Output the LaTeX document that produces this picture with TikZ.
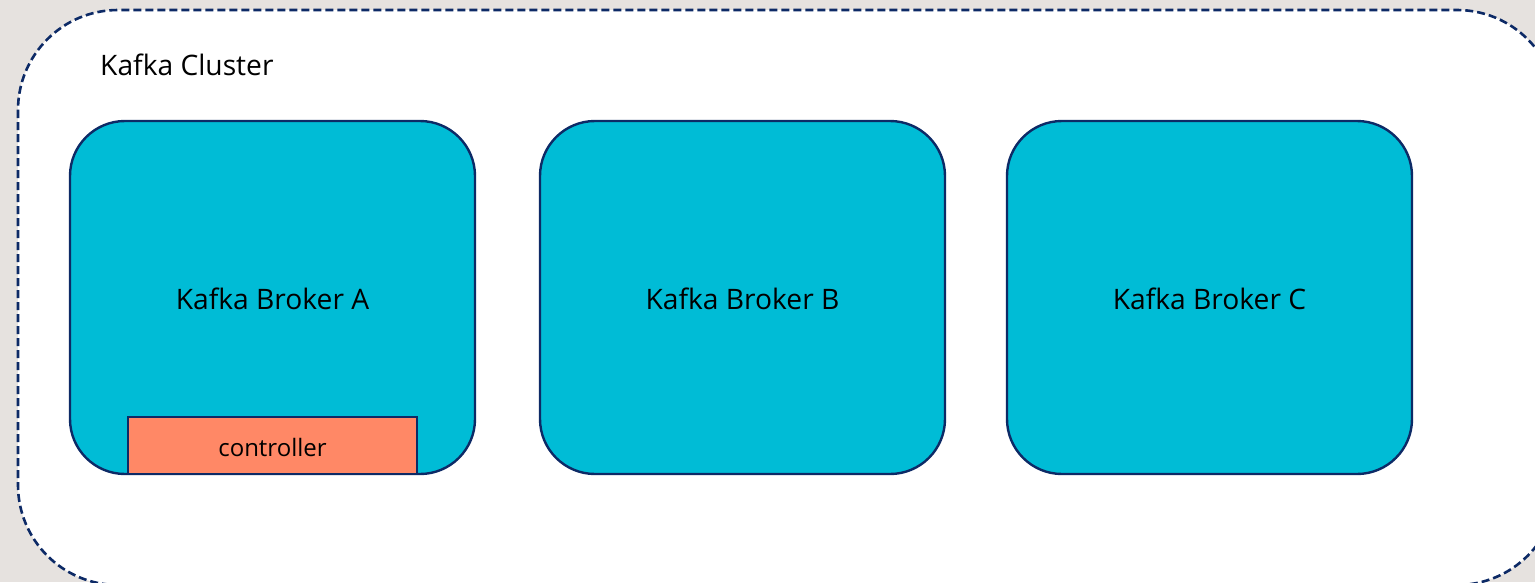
\documentclass[tikz,border=0pt]{standalone}
\usepackage{fontspec}
\setmainfont{Open Sans}
\definecolor{bgc}{HTML}{E6E2DF}
\definecolor{navy}{HTML}{0D2A66}
\definecolor{broker}{HTML}{00BCD6}
\definecolor{ctrl}{HTML}{FF8866}
\begin{document}
\begin{tikzpicture}[x=1pt,y=-1pt,
  brokerbox/.style={draw=navy,line width=2.4pt,fill=broker,rounded corners=55pt},
  ctrlbox/.style={draw=navy,line width=2.6pt,fill=ctrl},
  lbl/.style={font=\fontsize{28.2}{32}\selectfont,text=black}]
\useasboundingbox (0,0) rectangle (1535,582);
\fill[bgc] (0,0) rectangle (1535,582);
\draw[navy,line width=2.6pt,dash pattern=on 8pt off 4pt,fill=white,rounded corners=100pt]
  (18,10) rectangle (1557,585);
\node[lbl,anchor=west,inner sep=0pt] (cl) at (100,65) {Kafka Cluster};
\draw[brokerbox] (70,121) rectangle (475,474);
\draw[brokerbox] (540,121) rectangle (945,474);
\draw[brokerbox] (1007,121) rectangle (1412,474);
\node[lbl] (ba) at (272.5,299) {Kafka Broker A};
\node[lbl] (bb) at (742.5,299) {Kafka Broker B};
\node[lbl] (bc) at (1209.5,299) {Kafka Broker C};
\draw[ctrlbox] (128,417) rectangle (417,474);
\node[lbl,font=\fontsize{24}{28}\selectfont] (ct) at (272.5,447) {controller};
\end{tikzpicture}
\end{document}
